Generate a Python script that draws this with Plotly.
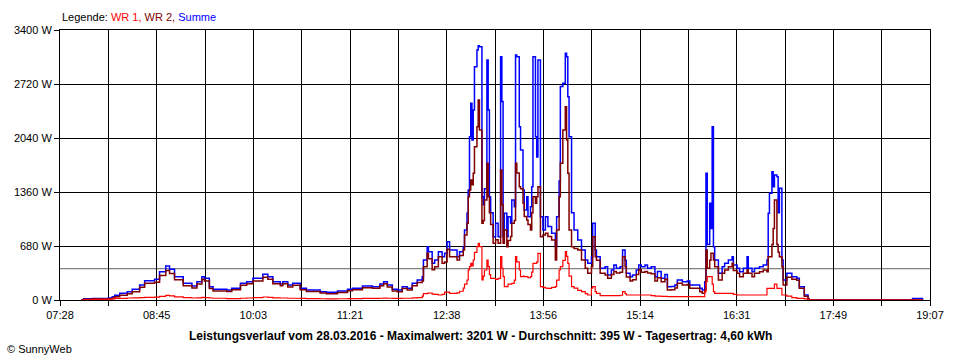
import plotly.graph_objects as go

# ---------------- data ----------------
times = [
    "07:45", "07:47", "07:54", "08:07", "08:10", "08:12", "08:16", "08:22", "08:26", "08:32",
    "08:36", "08:44", "08:48", "08:53", "08:56", "09:00", "09:07", "09:14", "09:18", "09:22",
    "09:24", "09:28", "09:31", "09:42", "09:46", "09:53", "09:58", "10:03", "10:11", "10:15",
    "10:19", "10:25", "10:27", "10:31", "10:35", "10:41", "10:46", "10:57", "11:02", "11:11",
    "11:19", "11:23", "11:31", "11:39", "11:45", "11:48", "11:51", "11:55", "11:59", "12:03",
    "12:07", "12:11", "12:15", "12:19", "12:20", "12:23", "12:24", "12:27", "12:29", "12:32",
    "12:35", "12:37", "12:39", "12:41", "12:47", "12:49", "12:52", "12:53", "12:55", "12:56",
    "12:57", "12:58", "12:59", "13:00", "13:01", "13:03", "13:04", "13:05", "13:07", "13:08",
    "13:09", "13:11", "13:12", "13:13", "13:14", "13:16", "13:18", "13:20", "13:22", "13:23",
    "13:24", "13:25", "13:27", "13:28", "13:30", "13:31", "13:33", "13:34", "13:35", "13:37",
    "13:38", "13:40", "13:41", "13:43", "13:44", "13:46", "13:47", "13:48", "13:50", "13:51",
    "13:52", "13:54", "13:56", "13:58", "14:00", "14:03", "14:06", "14:07", "14:09", "14:10",
    "14:12", "14:14", "14:15", "14:16", "14:17", "14:19", "14:21", "14:24", "14:27", "14:30",
    "14:32", "14:35", "14:36", "14:38", "14:39", "14:42", "14:46", "14:48", "14:51", "14:53",
    "14:55", "14:58", "15:00", "15:02", "15:03", "15:06", "15:08", "15:11", "15:13", "15:15",
    "15:18", "15:20", "15:23", "15:26", "15:28", "15:31", "15:34", "15:36", "15:39", "15:42",
    "15:44", "15:48", "15:52", "15:54", "15:58", "16:02", "16:04", "16:06", "16:07", "16:08",
    "16:10", "16:11", "16:12", "16:13", "16:14", "16:17", "16:20", "16:22", "16:25", "16:28",
    "16:29", "16:32", "16:34", "16:37", "16:40", "16:41", "16:44", "16:46", "16:50", "16:53",
    "16:56", "16:57", "16:58", "17:00", "17:01", "17:02", "17:04", "17:05", "17:06", "17:08",
    "17:09", "17:12", "17:16", "17:20", "17:22", "17:26", "17:29", "17:30", "18:52", "18:53",
    "19:01",
]

summe = [
    0, 15, 20, 25, 42, 60, 84, 105, 134, 189,
    243, 260, 357, 428, 386, 294, 210, 176, 231, 294,
    273, 168, 134, 126, 147, 210, 231, 273, 323, 294,
    231, 202, 231, 189, 210, 147, 126, 105, 97, 113,
    134, 147, 176, 168, 202, 231, 189, 134, 126, 168,
    147, 210, 252, 294, 504, 671, 608, 462, 504, 608,
    546, 588, 734, 630, 546, 608, 671, 882, 1091, 1385,
    2057, 2477, 2015, 2393, 2938, 3148, 3201, 3190, 1301, 1200,
    1400, 3022, 2393, 1300, 1100, 797, 966, 797, 3064, 2500,
    797, 1091, 797, 1049, 966, 1259, 1175, 3085, 3064, 2183,
    1889, 1385, 1133, 1301, 1049, 1175, 1427, 3064, 2057, 1800,
    3022, 1049, 882, 1049, 924, 840, 671, 1049, 1500, 2687,
    2729, 3106, 3064, 2561, 2057, 1100, 882, 755, 630, 504,
    462, 546, 966, 630, 546, 399, 420, 315, 378, 441,
    399, 420, 630, 500, 336, 294, 315, 378, 441, 420,
    441, 399, 420, 294, 360, 273, 320, 168, 170, 189,
    252, 231, 240, 189, 189, 147, 126, 231, 1595, 700,
    1217, 900, 2183, 671, 504, 336, 420, 462, 504, 546,
    441, 399, 357, 399, 546, 399, 357, 399, 420, 441,
    504, 1091, 1343, 1616, 1427, 1574, 1553, 1100, 1406, 504,
    252, 336, 294, 273, 168, 63, 15, 0, 0, 20,
    0,
]

wr2 = [
    0, 10, 12, 15, 25, 40, 60, 80, 105, 160,
    210, 225, 310, 370, 335, 255, 180, 150, 200, 260,
    240, 145, 112, 108, 128, 185, 205, 240, 285, 260,
    205, 178, 205, 165, 185, 128, 108, 88, 80, 95,
    115, 128, 155, 148, 180, 205, 165, 113, 105, 145,
    125, 180, 220, 240, 420, 590, 520, 380, 420, 546,
    462, 480, 640, 546, 504, 560, 630, 820, 966, 1300,
    1385, 1511, 1450, 1595, 1931, 2183, 2519, 2141, 966, 1000,
    1259, 1721, 1301, 1100, 950, 714, 760, 714, 1637, 1200,
    714, 882, 671, 750, 800, 966, 1000, 1721, 1600, 1427,
    1400, 1217, 1050, 1007, 950, 882, 1100, 1301, 1217, 1300,
    1427, 797, 820, 840, 800, 755, 504, 882, 1301, 1721,
    2141, 2435, 2015, 1595, 882, 671, 650, 630, 504, 400,
    336, 420, 797, 546, 500, 336, 315, 273, 320, 360,
    340, 350, 546, 420, 290, 240, 255, 320, 380, 350,
    360, 340, 330, 240, 280, 230, 260, 126, 128, 150,
    210, 190, 195, 147, 147, 105, 84, 126, 630, 400,
    500, 588, 588, 504, 420, 252, 336, 378, 420, 462,
    370, 336, 294, 336, 380, 336, 294, 336, 357, 378,
    357, 546, 546, 700, 900, 1259, 700, 600, 546, 420,
    190, 286, 260, 250, 147, 48, 10, 0, 0, 0,
    0,
]

wr1 = [
    0, 5, 8, 10, 15, 20, 20, 25, 28, 30,
    32, 35, 45, 58, 52, 40, 30, 25, 28, 32,
    30, 25, 22, 18, 18, 22, 25, 30, 38, 32,
    28, 25, 25, 22, 22, 20, 18, 16, 15, 16,
    18, 18, 20, 20, 22, 24, 22, 20, 20, 22,
    22, 28, 30, 50, 80, 84, 88, 75, 70, 63,
    70, 100, 100, 84, 90, 110, 150, 200, 252, 380,
    420, 460, 430, 504, 600, 671, 714, 671, 252, 300,
    378, 504, 420, 320, 273, 273, 260, 273, 546, 400,
    294, 168, 168, 200, 200, 210, 250, 546, 480, 378,
    294, 300, 294, 294, 280, 294, 350, 462, 462, 480,
    588, 168, 160, 150, 147, 160, 168, 250, 378, 420,
    500, 608, 550, 462, 300, 168, 150, 120, 105, 80,
    63, 150, 168, 105, 84, 55, 55, 55, 55, 55,
    55, 60, 105, 80, 63, 63, 63, 63, 63, 63,
    63, 63, 55, 50, 50, 45, 45, 42, 42, 42,
    42, 42, 42, 42, 42, 42, 42, 105, 231, 294,
    294, 294, 200, 105, 84, 84, 84, 84, 84, 84,
    70, 63, 63, 63, 63, 63, 63, 63, 63, 63,
    147, 147, 147, 147, 147, 200, 147, 147, 147, 63,
    63, 50, 30, 21, 21, 15, 5, 0, 0, 0,
    0,
]

average_w = 395

y_ticks = [0, 680, 1360, 2040, 2720, 3400]
y_tick_labels = ["0 W", "680 W", "1360 W", "2040 W", "2720 W", "3400 W"]
x_tick_labels = ["07:28", "08:45", "10:03", "11:21", "12:38",
                 "13:56", "15:14", "16:31", "17:49", "19:07"]

title_text = ("Leistungsverlauf vom 28.03.2016 - Maximalwert: 3201 W - "
              "Durchschnitt: 395 W - Tagesertrag: 4,60 kWh")

# ---------------- helpers ----------------
def to_min(s):
    h, m = s.split(":")
    return int(h) * 60 + int(m)

x = [to_min(t) for t in times]
x_start = to_min(x_tick_labels[0])
x_end = to_min(x_tick_labels[-1])
n_grid = 18
grid_vals = [x_start + k * (x_end - x_start) / n_grid for k in range(n_grid + 1)]
grid_text = [x_tick_labels[k // 2] if k % 2 == 0 else "" for k in range(n_grid + 1)]

BLUE = "#0000FF"
DARK_RED = "#800000"
RED = "#FF0000"

fig = go.Figure()
fig.add_trace(go.Scatter(x=x, y=summe, mode="lines", name="Summe",
                         line=dict(color=BLUE, width=1.5, shape="hv")))
fig.add_trace(go.Scatter(x=x, y=wr2, mode="lines", name="WR 2",
                         line=dict(color=DARK_RED, width=1.5, shape="hv")))
fig.add_trace(go.Scatter(x=x, y=wr1, mode="lines", name="WR 1",
                         line=dict(color=RED, width=1.2, shape="hv")))

fig.add_shape(type="line", xref="x", yref="y", x0=x_start, x1=x_end,
              y0=average_w, y1=average_w, line=dict(color="#808080", width=1.2),
              layer="below")

FONT = "Liberation Sans, Arial, sans-serif"

fig.update_layout(
    width=960, height=360,
    margin=dict(l=60, r=30, t=30, b=60),
    paper_bgcolor="white", plot_bgcolor="white",
    showlegend=False,
    font=dict(family=FONT, size=11, color="black"),
    xaxis=dict(
        range=[x_start, x_end], tickmode="array", tickvals=grid_vals, ticktext=grid_text,
        showgrid=True, gridcolor="black", gridwidth=1,
        showline=True, linecolor="black", linewidth=1, mirror=True,
        ticks="outside", ticklen=5, tickcolor="black", tickwidth=1,
        zeroline=False, tickfont=dict(size=11, color="black"),
    ),
    yaxis=dict(
        range=[0, 3400], tickmode="array", tickvals=y_ticks, ticktext=y_tick_labels,
        showgrid=True, gridcolor="black", gridwidth=1,
        showline=True, linecolor="black", linewidth=1, mirror=True,
        ticks="outside", ticklen=5, tickcolor="black", tickwidth=1,
        zeroline=False, tickfont=dict(size=11, color="black"),
    ),
)

legend_html = ("Legende: <span style='color:%s'>WR 1,</span> "
               "<span style='color:%s'>WR 2,</span> "
               "<span style='color:%s'>Summe</span>") % (RED, DARK_RED, BLUE)

fig.add_annotation(text=legend_html, xref="paper", yref="paper",
                   x=0, y=1 + 13 / 270, xanchor="left", yanchor="middle",
                   showarrow=False, font=dict(family=FONT, size=11, color="black"))
fig.add_annotation(text="<b>" + title_text + "</b>", xref="paper", yref="paper",
                   x=(480 - 60) / 870, y=-(336 - 300) / 270, xanchor="center",
                   yanchor="middle", showarrow=False,
                   font=dict(family=FONT, size=12, color="black"))
fig.add_annotation(text="© SunnyWeb", xref="paper", yref="paper",
                   x=(5 - 60) / 870, y=-(349 - 300) / 270, xanchor="left",
                   yanchor="middle", showarrow=False,
                   font=dict(family=FONT, size=11, color="black"))

fig.write_html(
    "out.html",
    config={"displayModeBar": False},
    post_script="document.body.style.margin='0';document.body.style.padding='0';"
                "document.body.style.overflow='hidden';",
)
